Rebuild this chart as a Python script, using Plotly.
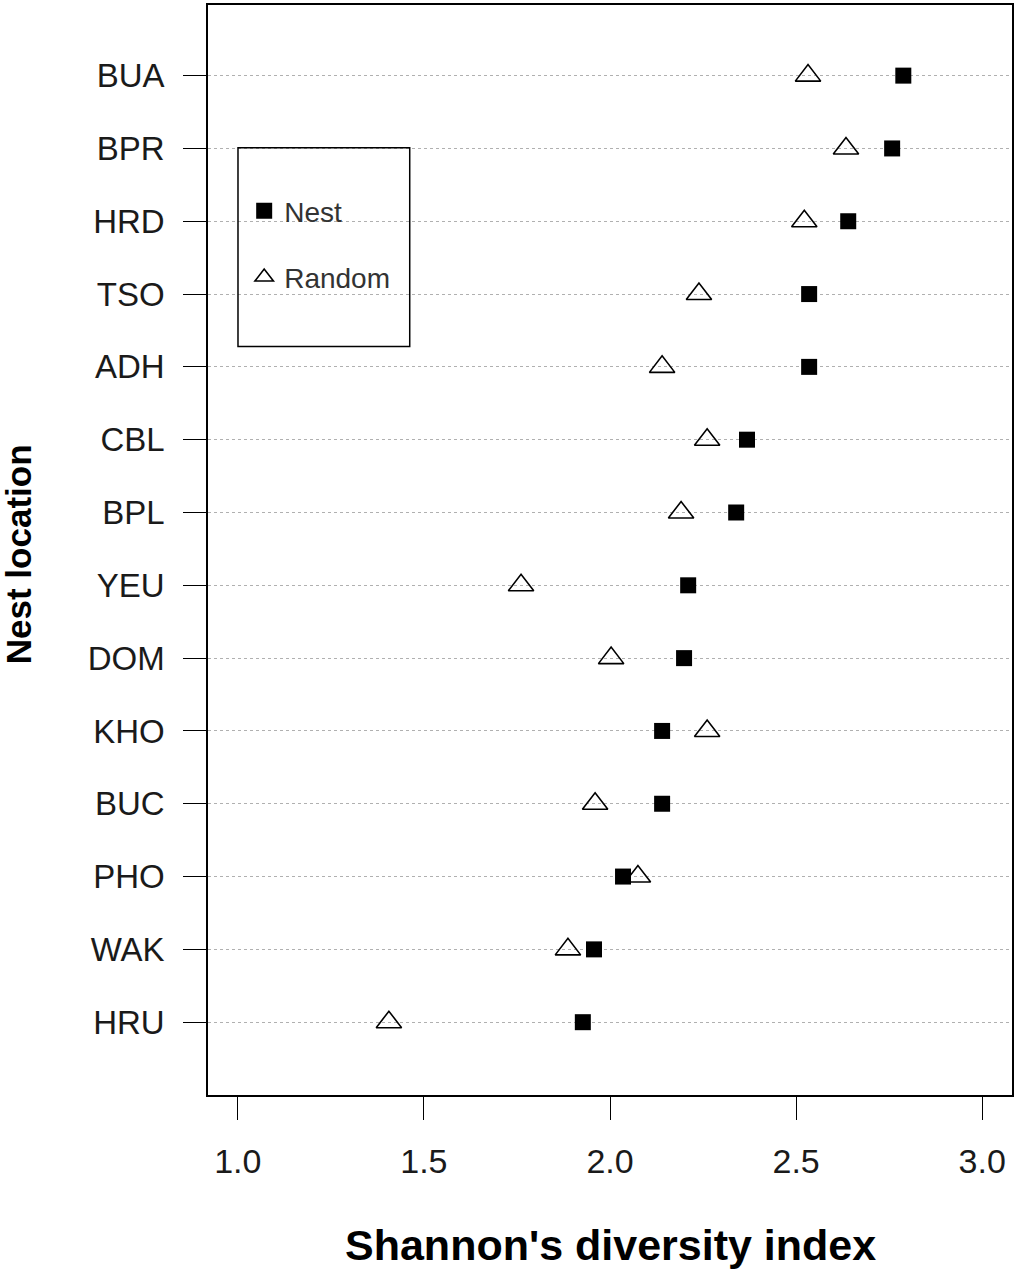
import plotly.graph_objects as go

# Data (top to bottom as displayed)
locations = ["BUA", "BPR", "HRD", "TSO", "ADH", "CBL", "BPL",
             "YEU", "DOM", "KHO", "BUC", "PHO", "WAK", "HRU"]
nest = [2.788, 2.758, 2.640, 2.535, 2.535, 2.368, 2.339,
        2.210, 2.199, 2.140, 2.140, 2.035, 1.957, 1.927]
random_ = [2.532, 2.634, 2.522, 2.239, 2.140, 2.261, 2.191,
           1.761, 2.003, 2.261, 1.960, 2.075, 1.887, 1.406]
x_ticks = [1.0, 1.5, 2.0, 2.5, 3.0]
x_ticktext = ["1.0", "1.5", "2.0", "2.5", "3.0"]

FONT = "Liberation Sans, Arial, sans-serif"

fig = go.Figure()
fig.add_trace(go.Scatter(
    x=nest, y=locations, mode="markers", name="Nest", legendgroup="nest",
    marker=dict(symbol="square", size=16, color="black",
                line=dict(width=0)),
))
fig.add_trace(go.Scatter(
    x=random_, y=locations, mode="markers", name="Random", legendgroup="random",
    marker=dict(symbol="triangle-up-open", size=22, color="black",
                line=dict(width=1.6, color="black")),
))

# Legend frame
fig.add_shape(type="rect", xref="paper", yref="paper",
              x0=0.0373, x1=0.2509, y0=0.6868, y1=0.869,
              line=dict(color="black", width=1.5), fillcolor="rgba(0,0,0,0)")

fig.update_layout(
    width=1017, height=1272,
    margin=dict(l=208, r=4, t=3, b=177),
    paper_bgcolor="white", plot_bgcolor="white",
    font=dict(family=FONT, color="#1a1a1a"),
    showlegend=True,
    legend=dict(
        x=0.045, y=0.834, xanchor="left", yanchor="top",
        bgcolor="rgba(0,0,0,0)", borderwidth=0,
        font=dict(size=28, color="#333333", family=FONT),
        traceorder="grouped", tracegroupgap=27,
    ),
    xaxis=dict(
        range=[0.92, 3.08], tickvals=x_ticks, ticktext=x_ticktext,
        showgrid=False, zeroline=False,
        ticks="outside", ticklen=23, tickwidth=1.2, tickcolor="black",
        tickfont=dict(size=34, family=FONT, color="#1a1a1a"),
        ticklabelstandoff=12,
        showline=True, linecolor="black", linewidth=1.5, mirror=True,
    ),
    yaxis=dict(
        type="category", categoryorder="array",
        categoryarray=locations[::-1],
        range=[-1.0, 13.97],
        showgrid=True, gridcolor="#b0b0b0", gridwidth=1, griddash="dot",
        zeroline=False,
        ticks="outside", ticklen=23, tickwidth=1.2, tickcolor="black",
        tickfont=dict(size=33, family=FONT, color="#1a1a1a"),
        ticklabelstandoff=12,
        showline=True, linecolor="black", linewidth=1.5, mirror=True,
    ),
    annotations=[
        dict(text="<b>Shannon's diversity index</b>", xref="paper", yref="paper",
             x=(611 - 208) / 805, y=-(1245 - 1095) / 1092,
             xanchor="center", yanchor="middle", showarrow=False,
             font=dict(size=43, family=FONT, color="black")),
        dict(text="<b>Nest location</b>", xref="paper", yref="paper",
             x=-(208 - 19) / 805, y=(1095 - 553) / 1092,
             xanchor="center", yanchor="middle", showarrow=False, textangle=-90,
             font=dict(size=35, family=FONT, color="black")),
    ],
)

fig.write_html(
    "out.html",
    config={"displayModeBar": False},
    post_script="document.body.style.margin='0';document.body.style.overflow='hidden';",
)
